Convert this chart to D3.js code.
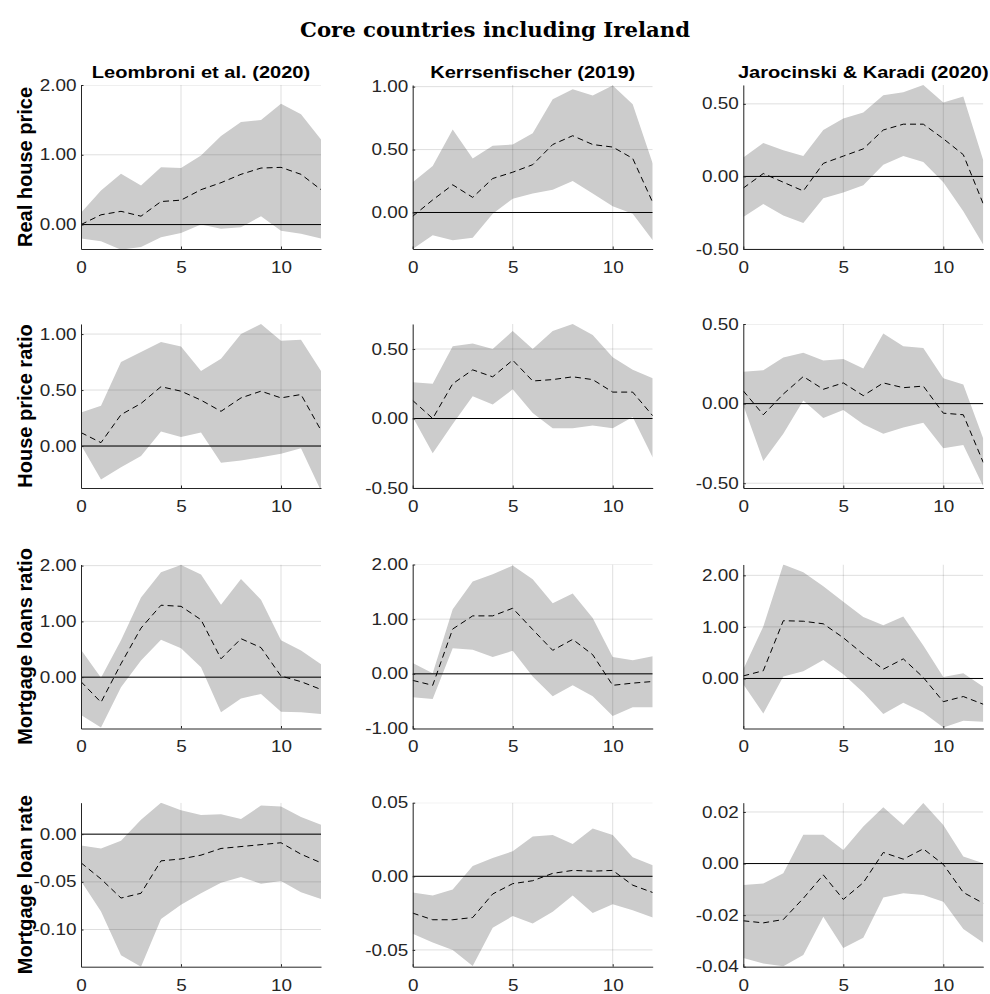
<!DOCTYPE html>
<html>
<head>
<meta charset="utf-8">
<script src="https://cdn.jsdelivr.net/npm/d3@7"></script>
<style>
  body { margin: 0; background: #fff; }
</style>
</head>
<body>
<div class="chart"></div>
<script>
// horizons (months after the shock)
var horizons = [0, 1, 2, 3, 4, 5, 6, 7, 8, 9, 10, 11, 12];

var columnTitles = ["Leombroni et al. (2020)", "Kerrsenfischer (2019)", "Jarocinski & Karadi (2020)"];
var rowLabels = ["Real house price", "House price ratio", "Mortgage loans ratio", "Mortgage loan rate"];
var xTicks = [0, 5, 10];

// --- real house price ---
var rhpLeomLo  = [-0.20, -0.24, -0.36, -0.32, -0.18, -0.12, 0.00, -0.06, -0.04, 0.12, -0.09, -0.13, -0.20];
var rhpLeomMid = [0.00, 0.14, 0.19, 0.12, 0.33, 0.35, 0.50, 0.60, 0.72, 0.81, 0.82, 0.72, 0.50];
var rhpLeomHi  = [0.17, 0.49, 0.73, 0.56, 0.82, 0.81, 0.99, 1.27, 1.47, 1.50, 1.73, 1.58, 1.22];

var rhpKerrLo  = [-0.29, -0.18, -0.22, -0.20, -0.01, 0.11, 0.15, 0.18, 0.25, 0.15, 0.05, -0.01, -0.22];
var rhpKerrMid = [-0.03, 0.10, 0.22, 0.12, 0.27, 0.32, 0.38, 0.54, 0.61, 0.54, 0.52, 0.43, 0.08];
var rhpKerrHi  = [0.24, 0.37, 0.66, 0.43, 0.53, 0.54, 0.63, 0.90, 0.98, 0.93, 1.01, 0.86, 0.39];

var rhpJkLo  = [-0.28, -0.19, -0.27, -0.32, -0.15, -0.11, -0.06, 0.08, 0.14, 0.10, -0.04, -0.24, -0.47];
var rhpJkMid = [-0.08, 0.02, -0.04, -0.10, 0.09, 0.14, 0.19, 0.32, 0.36, 0.36, 0.26, 0.15, -0.19];
var rhpJkHi  = [0.13, 0.23, 0.18, 0.14, 0.32, 0.40, 0.44, 0.56, 0.58, 0.63, 0.51, 0.55, 0.11];

// --- house price ratio ---
var hprLeomLo  = [0.01, -0.30, -0.19, -0.09, 0.13, 0.08, 0.12, -0.15, -0.13, -0.10, -0.07, -0.02, -0.40];
var hprLeomMid = [0.12, 0.03, 0.28, 0.38, 0.53, 0.49, 0.41, 0.31, 0.43, 0.49, 0.43, 0.46, 0.14];
var hprLeomHi  = [0.30, 0.36, 0.75, 0.84, 0.93, 0.89, 0.67, 0.78, 1.00, 1.09, 0.94, 0.95, 0.67];

var hprKerrLo  = [0.01, -0.25, -0.04, 0.16, 0.10, 0.21, 0.04, -0.07, -0.07, -0.05, -0.07, 0.01, -0.28];
var hprKerrMid = [0.13, 0.00, 0.25, 0.35, 0.30, 0.42, 0.27, 0.28, 0.30, 0.28, 0.19, 0.19, 0.02];
var hprKerrHi  = [0.26, 0.25, 0.52, 0.54, 0.50, 0.63, 0.50, 0.63, 0.68, 0.60, 0.44, 0.35, 0.29];

var hprJkLo  = [-0.01, -0.36, -0.19, 0.02, -0.09, -0.04, -0.13, -0.19, -0.15, -0.12, -0.28, -0.26, -0.52];
var hprJkMid = [0.08, -0.07, 0.06, 0.17, 0.09, 0.13, 0.05, 0.13, 0.10, 0.11, -0.06, -0.07, -0.37];
var hprJkHi  = [0.20, 0.21, 0.29, 0.32, 0.27, 0.28, 0.22, 0.44, 0.36, 0.35, 0.16, 0.12, -0.22];

// --- mortgage loans ratio ---
var mlrLeomLo  = [-0.68, -0.90, -0.18, 0.30, 0.67, 0.52, 0.18, -0.63, -0.38, -0.30, -0.62, -0.63, -0.66];
var mlrLeomMid = [-0.08, -0.45, 0.24, 0.88, 1.29, 1.27, 1.03, 0.33, 0.69, 0.53, 0.02, -0.08, -0.22];
var mlrLeomHi  = [0.49, -0.01, 0.66, 1.43, 1.88, 2.01, 1.84, 1.30, 1.76, 1.39, 0.66, 0.48, 0.23];

var mlrKerrLo  = [-0.43, -0.46, 0.47, 0.44, 0.31, 0.42, -0.05, -0.41, -0.21, -0.41, -0.77, -0.61, -0.61];
var mlrKerrMid = [-0.12, -0.21, 0.82, 1.06, 1.06, 1.20, 0.81, 0.43, 0.63, 0.35, -0.21, -0.17, -0.14];
var mlrKerrHi  = [0.20, 0.01, 1.18, 1.69, 1.82, 1.98, 1.73, 1.29, 1.47, 1.02, 0.31, 0.25, 0.32];

var mlrJkLo  = [-0.11, -0.68, 0.04, 0.14, 0.36, 0.08, -0.27, -0.69, -0.47, -0.66, -0.95, -0.82, -0.84];
var mlrJkMid = [0.05, 0.15, 1.12, 1.11, 1.06, 0.79, 0.47, 0.18, 0.38, 0.02, -0.45, -0.35, -0.50];
var mlrJkHi  = [0.18, 1.01, 2.21, 2.06, 1.79, 1.49, 1.19, 1.03, 1.20, 0.64, 0.03, 0.10, -0.16];

// --- mortgage loan rate ---
var mrLeomLo  = [-0.049, -0.081, -0.127, -0.139, -0.089, -0.074, -0.062, -0.051, -0.045, -0.052, -0.049, -0.061, -0.068];
var mrLeomMid = [-0.030, -0.047, -0.067, -0.062, -0.028, -0.026, -0.022, -0.015, -0.013, -0.011, -0.009, -0.021, -0.030];
var mrLeomHi  = [-0.012, -0.015, -0.007, 0.015, 0.033, 0.025, 0.020, 0.021, 0.016, 0.030, 0.029, 0.018, 0.010];

var mrKerrLo  = [-0.039, -0.045, -0.050, -0.061, -0.035, -0.027, -0.032, -0.024, -0.013, -0.025, -0.019, -0.023, -0.028];
var mrKerrMid = [-0.025, -0.0295, -0.0295, -0.028, -0.012, -0.005, -0.003, 0.002, 0.004, 0.0035, 0.004, -0.006, -0.011];
var mrKerrHi  = [-0.011, -0.013, -0.009, 0.007, 0.0125, 0.017, 0.027, 0.028, 0.022, 0.0325, 0.028, 0.013, 0.0075];

var mrJkLo  = [-0.0366, -0.0388, -0.0398, -0.0355, -0.0206, -0.0327, -0.0288, -0.0132, -0.0115, -0.0122, -0.0148, -0.0254, -0.0307];
var mrJkMid = [-0.0222, -0.0230, -0.0217, -0.0135, -0.0044, -0.0139, -0.0074, 0.0043, 0.0017, 0.0057, -0.0003, -0.0112, -0.0154];
var mrJkHi  = [-0.0083, -0.0077, -0.0038, 0.0112, 0.0112, 0.0053, 0.0144, 0.0218, 0.0150, 0.0235, 0.0150, 0.0027, 0.0001];

// y tick values and axis limits, one entry per panel (row by row)
var yTicks = [
  [0, 1, 2], [0, 0.5, 1], [-0.5, 0, 0.5],
  [0, 0.5, 1], [-0.5, 0, 0.5], [-0.5, 0, 0.5],
  [0, 1, 2], [-1, 0, 1, 2], [0, 1, 2],
  [-0.10, -0.05, 0], [-0.05, 0, 0.05], [-0.04, -0.02, 0, 0.02]
];
var yLimits = [
  [-0.35, 2.0], [-0.29, 1.013], [-0.50, 0.63],
  [-0.375, 1.09], [-0.50, 0.68], [-0.53, 0.50],
  [-0.92, 2.02], [-1.0, 2.0], [-0.97, 2.21],
  [-0.139, 0.033], [-0.0614, 0.05], [-0.04, 0.0236]
];

var bands = [
  [[rhpLeomLo, rhpLeomMid, rhpLeomHi], [rhpKerrLo, rhpKerrMid, rhpKerrHi], [rhpJkLo, rhpJkMid, rhpJkHi]],
  [[hprLeomLo, hprLeomMid, hprLeomHi], [hprKerrLo, hprKerrMid, hprKerrHi], [hprJkLo, hprJkMid, hprJkHi]],
  [[mlrLeomLo, mlrLeomMid, mlrLeomHi], [mlrKerrLo, mlrKerrMid, mlrKerrHi], [mlrJkLo, mlrJkMid, mlrJkHi]],
  [[mrLeomLo, mrLeomMid, mrLeomHi], [mrKerrLo, mrKerrMid, mrKerrHi], [mrJkLo, mrJkMid, mrJkHi]]
];

// dimensions
var svgWidth = 990;
var svgHeight = 994;
var colLeft = [81, 412.7, 743.3];
var rowTop = [85, 324, 564.5, 802.7];
var plotW = 240;
var plotH = 164;
var stretch = 1.18; // horizontal text stretch seen in the figure

var svg = d3.select(".chart")
  .append("svg")
  .attr("width", svgWidth)
  .attr("height", svgHeight)
  .style("font-family", "'Liberation Sans', Arial, sans-serif");

// main title
svg.append("text")
  .attr("x", 495)
  .attr("y", 37)
  .attr("text-anchor", "middle")
  .attr("textLength", 390)
  .attr("lengthAdjust", "spacingAndGlyphs")
  .style("font-family", "'DejaVu Serif', serif")
  .style("font-weight", "bold")
  .style("font-size", "20px")
  .text("Core countries including Ireland");

var fmt = function(d) { return d.toFixed(2); };

rowLabels.forEach(function(label, r) {
  columnTitles.forEach(function(title, c) {
    var k = r * 3 + c;
    var lo = bands[r][c][0], mid = bands[r][c][1], hi = bands[r][c][2];

    var g = svg.append("g")
      .attr("transform", `translate(${colLeft[c]}, ${rowTop[r]})`);

    var xScale = d3.scaleLinear().domain([0, 12]).range([0, plotW]);
    var yScale = d3.scaleLinear().domain(yLimits[k]).range([plotH, 0]);

    var clipId = "clip" + k;
    g.append("clipPath").attr("id", clipId)
      .append("rect").attr("width", plotW).attr("height", plotH);

    var plot = g.append("g").attr("clip-path", `url(#${clipId})`);

    // confidence band
    var area = d3.area()
      .x((d, i) => xScale(horizons[i]))
      .y0((d, i) => yScale(lo[i]))
      .y1((d, i) => yScale(hi[i]));
    plot.append("path")
      .datum(mid)
      .attr("d", area)
      .attr("fill", "#cccccc");

    // grid lines
    plot.selectAll(".gx")
      .data(xTicks)
      .enter()
      .append("line")
      .attr("x1", d => xScale(d)).attr("x2", d => xScale(d))
      .attr("y1", 0).attr("y2", plotH)
      .attr("stroke", "#262626")
      .attr("stroke-opacity", 0.15);
    plot.selectAll(".gy")
      .data(yTicks[k])
      .enter()
      .append("line")
      .attr("x1", 0).attr("x2", plotW)
      .attr("y1", d => yScale(d)).attr("y2", d => yScale(d))
      .attr("stroke", "#262626")
      .attr("stroke-opacity", 0.15);

    // zero line
    plot.append("line")
      .attr("x1", 0).attr("x2", plotW)
      .attr("y1", yScale(0)).attr("y2", yScale(0))
      .attr("stroke", "#000")
      .attr("stroke-width", 1);

    // median response
    var line = d3.line()
      .x((d, i) => xScale(horizons[i]))
      .y(d => yScale(d));
    plot.append("path")
      .datum(mid)
      .attr("d", line)
      .attr("fill", "none")
      .attr("stroke", "#000")
      .attr("stroke-width", 1)
      .attr("stroke-dasharray", "6,4");

    // axes
    var leftAxis = d3.axisLeft(yScale)
      .tickValues(yTicks[k])
      .tickFormat(fmt)
      .tickSizeInner(-2.5)
      .tickSizeOuter(0)
      .tickPadding(4.5);
    var yAxis = g.append("g").call(leftAxis);

    var bottomAxis = d3.axisBottom(xScale)
      .tickValues(xTicks)
      .tickFormat(d3.format("d"))
      .tickSizeInner(-2.5)
      .tickSizeOuter(0)
      .tickPadding(12.5);
    var xAxis = g.append("g")
      .attr("transform", `translate(0, ${plotH})`)
      .call(bottomAxis);

    [xAxis, yAxis].forEach(function(ax) {
      ax.select(".domain").attr("stroke", "#262626");
      ax.selectAll(".tick line").attr("stroke", "#262626");
      ax.selectAll("text")
        .attr("fill", "#262626")
        .style("font-size", "16px")
        .style("font-family", "'Liberation Sans', Arial, sans-serif");
    });
    yAxis.selectAll("text")
      .attr("x", -4.5 / stretch)
      .attr("transform", `scale(${stretch},1)`);
    xAxis.selectAll("text")
      .attr("transform", `scale(${stretch},1)`);

    // column titles on the first row
    if (r === 0) {
      svg.append("text")
        .attr("transform", `translate(${colLeft[c] + plotW / 2}, 78) scale(${stretch},1)`)
        .attr("text-anchor", "middle")
        .style("font-weight", "bold")
        .style("font-size", "17px")
        .text(title);
    }
    // row labels on the first column
    if (c === 0) {
      svg.append("text")
        .attr("transform", `translate(32, ${rowTop[r] + plotH / 2}) rotate(-90)`)
        .attr("text-anchor", "middle")
        .style("font-weight", "bold")
        .style("font-size", "20px")
        .text(label);
    }
  });
});
</script>
</body>
</html>
